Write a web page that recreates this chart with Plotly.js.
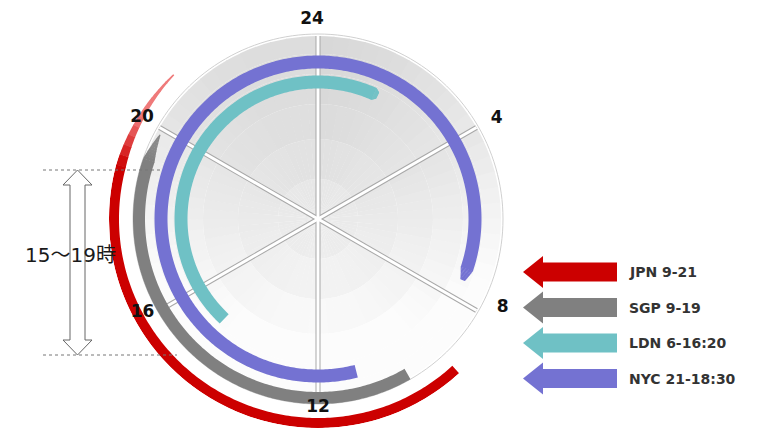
<!DOCTYPE html>
<html><head><meta charset="utf-8">
<script src="https://cdn.plot.ly/plotly-3.0.1.min.js"></script>
<style>html,body{margin:0;padding:0;background:#fff;}#chart{width:757px;height:430px;}</style>
</head><body><div id="chart"></div>
<script>
// ---------- data ----------
const series = ['JPN', 'SGP', 'LDN', 'NYC'];
const legendLabels = ['JPN 9-21', 'SGP 9-19', 'LDN 6-16:20', 'NYC 21-18:30'];
const arcStartHour = [9.17, 10.0, 14.88, 11.06];   // clock position where each arc starts (clockwise)
const arcEndHour = [21.0, 19.87, 25.72, 31.53];    // clock position where each arc ends
const clockTickHours = [24, 4, 8, 12, 16, 20];
const clockTickLabels = ['24', '4', '8', '12', '16', '20'];
const bracketLabel = '15～19時';

// ---------- style / layout ----------
const W = 757, H = 430;
const CX = 318, CY = 219, PR = 209;           // polar centre & radius in px
const colors = ['#cc0000', '#808080', '#6fc1c5', '#7472d2'];
const taperColors = ['#ef7a7a', '#8a8a8a', '#6fc1c5', '#7472d2'];
const ringRadius = [204, 179, 137, 157];
const ringWidth = [10, 12, 13, 13];
const taperHours = [2.0, 0.6, 0.12, 0.3];
const taperMin = [0.15, 0.1, 0.5, 0.35];
const DISC_R = 183;
const labelR = [199, 205, 205, 189, 199, 203];
const labelDTheta = [-1.7, 0.6, -4.3, 0, 1.8, -0.1];

const deg = h => ((h * 15) % 360 + 360) % 360;

function mix(c1, c2, t) {
  const p = c => [1,3,5].map(i => parseInt(c.substr(i,2),16));
  const a = p(c1), b = p(c2);
  return 'rgb(' + a.map((v,i)=>Math.round(v+(b[i]-v)*t)).join(',') + ')';
}

const traces = [];

// ---- disc (shaded wedges) ----
(function(){
  const th=[], wd=[], rr=[], bs=[], cl=[];
  const nAng = 72, rings = [0, 40, 80, 115, 145, 165, 183];
  for (let a = 0; a < nAng; a++) {
    const t = (a + 0.5) * 360 / nAng;
    for (let k = 0; k < rings.length - 1; k++) {
      const rm = (rings[k] + rings[k+1]) / 2;
      const y = rm * Math.cos(t * Math.PI / 180) / DISC_R; // up positive
      let v = 234 - 24 * y + 12 * Math.pow(rm / DISC_R, 3);
      const local = (t % 60) / 60;
      v -= 6 * Math.max(0, y) * (1 - local);
      v = Math.max(205, Math.min(252, v));
      th.push(t); wd.push(360 / nAng + 0.3); bs.push(rings[k]); rr.push(rings[k+1] - rings[k]);
      const g = Math.round(v);
      cl.push('rgb(' + g + ',' + g + ',' + g + ')');
    }
  }
  traces.push({type:'barpolar', theta:th, width:wd, r:rr, base:bs,
    marker:{color:cl, line:{width:0}}, hoverinfo:'skip'});
})();

// outer rim
(function(){
  const th=[], r=[];
  for (let a = 0; a <= 360; a += 2) { th.push(a); r.push(DISC_R + 2); }
  traces.push({type:'scatterpolar', mode:'lines', theta:th, r:r,
    line:{color:'#d0d0d0', width:1}, hoverinfo:'skip'});
})();

// spokes
(function(){
  const th=[], r=[];
  clockTickHours.forEach(h => { th.push(deg(h), deg(h), null); r.push(0, DISC_R, null); });
  traces.push({type:'scatterpolar', mode:'lines', theta:th, r:r, line:{color:'#a8a8a8', width:5}, hoverinfo:'skip'});
  traces.push({type:'scatterpolar', mode:'lines', theta:th, r:r, line:{color:'#ffffff', width:3}, hoverinfo:'skip'});
})();

// ---- session arcs (filled ring segments) ----
function ringPoly(h0, h1, R, w0, w1) {
  const th=[], r=[];
  const n = Math.max(2, Math.ceil((h1 - h0) / 0.05));
  for (let k = 0; k <= n; k++) {
    const h = h0 + (h1 - h0) * k / n, w = w0 + (w1 - w0) * k / n;
    th.push(deg(h)); r.push(R + w / 2);
  }
  for (let k = n; k >= 0; k--) {
    const h = h0 + (h1 - h0) * k / n, w = w0 + (w1 - w0) * k / n;
    th.push(deg(h)); r.push(R - w / 2);
  }
  return {theta: th, r: r};
}
series.forEach((s, i) => {
  const st = arcStartHour[i], en = arcEndHour[i], tp = taperHours[i];
  const R = ringRadius[i], w = ringWidth[i];
  const mainEnd = en - tp;
  const p = ringPoly(st, mainEnd + 0.01, R, w, w);
  traces.push({type:'scatterpolar', mode:'lines', fill:'toself', name:s, theta:p.theta, r:p.r,
    fillcolor:colors[i], line:{width:0, color:colors[i]}, hoverinfo:'skip'});
  const N = 10;
  for (let k = 0; k < N; k++) {
    const h0 = mainEnd + k * tp / N, h1 = mainEnd + (k + 1) * tp / N + (k < N - 1 ? 0.01 : 0);
    const wa = w * (1 - (1 - taperMin[i]) * k / N), wb = w * (1 - (1 - taperMin[i]) * (k + 1) / N);
    const c = mix(colors[i], taperColors[i], Math.min(1, (k + 0.5) / N * 2));
    const q = ringPoly(h0, h1, R, wa, wb);
    traces.push({type:'scatterpolar', mode:'lines', fill:'toself', theta:q.theta, r:q.r,
      fillcolor:c, line:{width:0, color:c}, hoverinfo:'skip'});
  }
});

// ---- clock labels ----
traces.push({type:'scatterpolar', mode:'text',
  theta: clockTickHours.map((h, i) => (deg(h) + labelDTheta[i] + 360) % 360),
  r: labelR, text: clockTickLabels,
  textfont:{family:'DejaVu Sans', size:17, color:'#111', weight:'bold'},
  hoverinfo:'skip'});

// ---- overlay shapes (bracket + legend arrows) ----
const shapes = [];
const annotations = [];
const yTop = 170, yBot = 355, ax = 77.5;
shapes.push({type:'line', xref:'x', yref:'y', x0:43, x1:160, y0:yTop, y1:yTop, line:{color:'#777', width:1, dash:'3px,3px'}, layer:'above'});
shapes.push({type:'line', xref:'x', yref:'y', x0:43, x1:177, y0:yBot, y1:yBot, line:{color:'#777', width:1, dash:'3px,3px'}, layer:'above'});
const sh = 7.5, hh = 14.5, hl = 15;
shapes.push({type:'path', xref:'x', yref:'y', layer:'above',
  path:`M ${ax},${yTop} L ${ax+hh},${yTop+hl} L ${ax+sh},${yTop+hl} L ${ax+sh},${yBot-hl} L ${ax+hh},${yBot-hl} L ${ax},${yBot} L ${ax-hh},${yBot-hl} L ${ax-sh},${yBot-hl} L ${ax-sh},${yTop+hl} L ${ax-hh},${yTop+hl} Z`,
  fillcolor:'#ffffff', line:{color:'#666', width:1}});
annotations.push({xref:'x', yref:'y', x:70, y:255, text:bracketLabel, showarrow:false,
  font:{family:'DejaVu Sans, Noto Sans CJK JP', size:20, color:'#1a1a1a'}});

const legY0 = 272, legDY = 35.5;
legendLabels.forEach((lab, i) => {
  const yc = legY0 + i * legDY;
  const tip = 523, hb = 543, end = 617, hH = 16, sH = 9.5;
  shapes.push({type:'path', xref:'x', yref:'y', layer:'above',
    path:`M ${tip},${yc} L ${hb},${yc-hH} L ${hb},${yc-sH} L ${end},${yc-sH} L ${end},${yc+sH} L ${hb},${yc+sH} L ${hb},${yc+hH} Z`,
    fillcolor:colors[i], line:{width:0}});
  annotations.push({xref:'x', yref:'y', x:627, y:yc, xanchor:'left', yanchor:'middle', text:lab, showarrow:false,
    font:{family:'DejaVu Sans', size:14, color:'#333', weight:'bold'}});
});

const layout = {
  width: W, height: H, margin:{l:0, r:0, t:0, b:0},
  paper_bgcolor:'#fff', plot_bgcolor:'rgba(0,0,0,0)', showlegend:false, hovermode:false,
  xaxis:{range:[0, W], visible:false, fixedrange:true, domain:[0,1]},
  yaxis:{range:[H, 0], visible:false, fixedrange:true, domain:[0,1]},
  polar:{
    domain:{x:[(CX-PR)/W, (CX+PR)/W], y:[1-(CY+PR)/H, 1-(CY-PR)/H]},
    bgcolor:'rgba(0,0,0,0)', barmode:'overlay', hole:0,
    radialaxis:{range:[0, PR], visible:false, showgrid:false},
    angularaxis:{rotation:90, direction:'clockwise', visible:false, showgrid:false}
  },
  shapes: shapes, annotations: annotations
};
traces.unshift({type:'scatter', x:[0], y:[0], mode:'markers', marker:{opacity:0}, hoverinfo:'skip'});
Plotly.newPlot('chart', traces, layout, {staticPlot:true, displayModeBar:false});
</script>
</body></html>
